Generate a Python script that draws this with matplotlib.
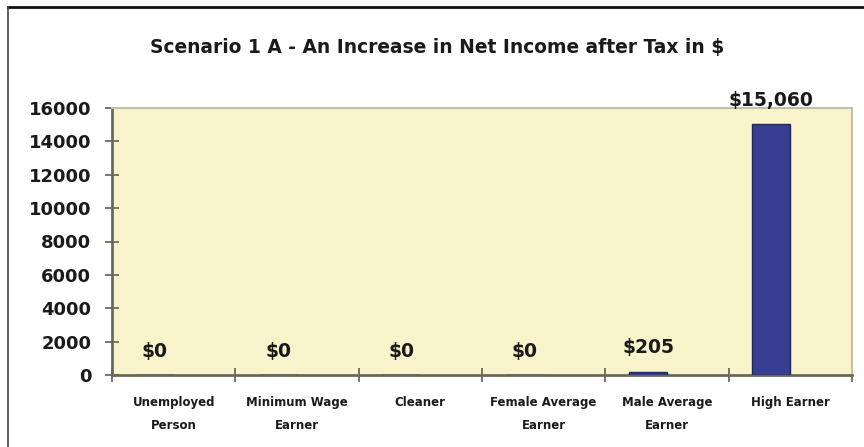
import matplotlib
matplotlib.use("Agg")
import matplotlib.pyplot as plt
from matplotlib.lines import Line2D

categories = ["Unemployed\nPerson", "Minimum Wage\nEarner", "Cleaner",
              "Female Average\nEarner", "Male Average\nEarner", "High Earner"]
values = [0, 0, 0, 0, 205, 15060]
value_labels = ["$0", "$0", "$0", "$0", "$205", "$15,060"]
yticks = [0, 2000, 4000, 6000, 8000, 10000, 12000, 14000, 16000]
title = "Scenario 1 A - An Increase in Net Income after Tax in $"

FONT = "DejaVu Sans"
fig = plt.figure(figsize=(8.64, 4.47), dpi=100)
ax = fig.add_axes([112/864, 1-375/447, (852-112)/864, (375-108)/447])
ax.set_facecolor("#f9f3cb")

w = 0.308
xs = list(range(len(categories)))
ax.bar([x - w for x in xs], values, width=w, align="edge",
       color="#383d8f", edgecolor="#23265e", linewidth=1.0, zorder=3)

for x, v, lab in zip(xs, values, value_labels):
    ax.annotate(lab, (x - w/2, v), xytext=(0, 17), textcoords="offset points",
                ha="center", va="center", fontsize=13.5, fontweight="bold",
                family=FONT, color="#1a1a1a", zorder=4)

ax.set_xlim(-0.5, len(categories) - 0.5)
ax.set_ylim(0, 16000)
ax.set_yticks(yticks)
ax.set_yticklabels([str(t) for t in yticks], fontsize=13, fontweight="bold",
                   family=FONT, color="#1a1a1a")
ax.set_xticks([x + 0.5 for x in range(-1, len(categories))])
ax.set_xticklabels([])
ax.set_xticks(xs, minor=True)
ax.set_xticklabels(categories, minor=True, fontsize=8.5, fontweight="bold",
                   family=FONT, color="#1a1a1a", linespacing=2.0)
ax.tick_params(axis="x", which="minor", length=0, pad=15)
ax.tick_params(axis="both", which="major", direction="inout", length=10,
               width=1.3, color="#6a6a5c")
ax.tick_params(axis="y", pad=10)

for s in ["left", "bottom"]:
    ax.spines[s].set_color("#6a6a5c")
    ax.spines[s].set_linewidth(2)
for s in ["top", "right"]:
    ax.spines[s].set_color("#c4bfa8")
    ax.spines[s].set_linewidth(1.5)

fig.text(437/864, 1-47/447, title, ha="center", va="center", fontsize=13.4,
         fontweight="bold", family=FONT, color="#1a1a1a")

fig.add_artist(Line2D([8/864, 1], [1-7/447, 1-7/447], color="#111111", linewidth=2))
fig.add_artist(Line2D([8/864, 8/864], [0, 1-7/447], color="#444444", linewidth=1.2))

fig.savefig("out.png", dpi=100, facecolor="white")
